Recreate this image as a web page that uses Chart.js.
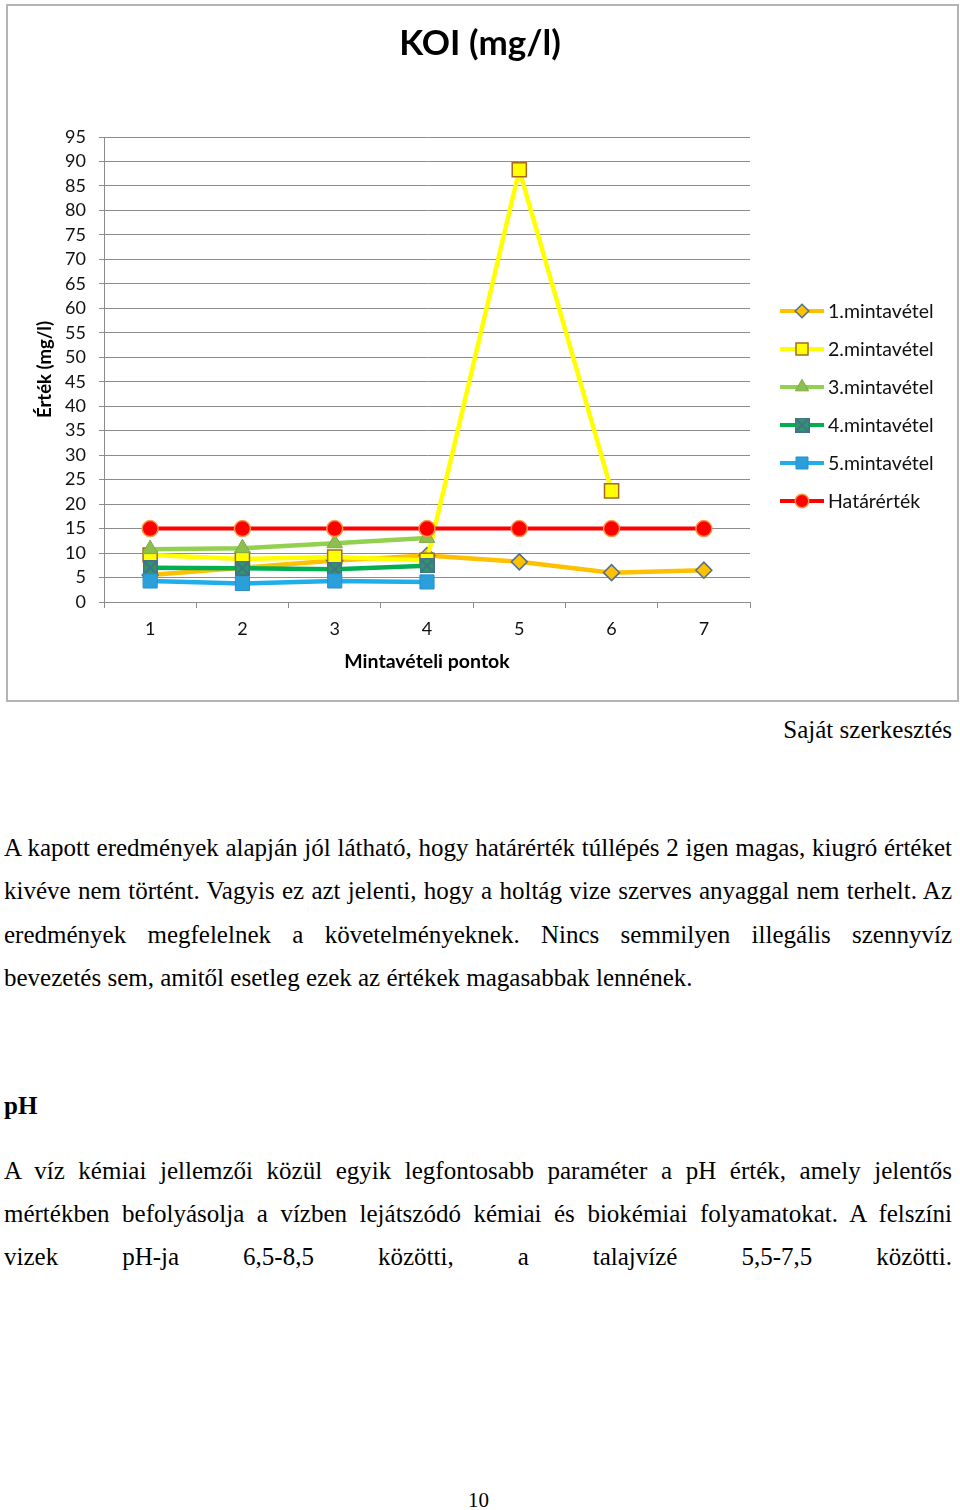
<!DOCTYPE html>
<html>
<head>
<meta charset="utf-8">
<script src="https://cdn.jsdelivr.net/npm/chart.js@4.4.1/dist/chart.umd.min.js"></script>
<style>
  html,body{margin:0;padding:0;background:#fff;}
  #page{position:relative;width:960px;height:1510px;overflow:hidden;}
  #chartBox{position:absolute;left:0;top:0;width:960px;height:702px;}
  #frame{position:absolute;left:6px;top:4px;width:949px;height:694px;border:2px solid #b4b4b4;pointer-events:none;}
  .t{position:absolute;font-family:"Liberation Serif","Times New Roman",serif;font-size:25px;color:#000;}
  .ln{left:4px;width:948px;height:43.4px;line-height:43.4px;white-space:nowrap;}
  .lnl{left:4px;width:948px;height:43.4px;line-height:43.4px;text-align:left;white-space:nowrap;}
</style>
</head>
<body>
<div id="page">
  <div id="chartBox"><canvas id="c"></canvas></div>
  <div id="frame"></div>

  <div class="t" style="right:8px;top:716px;line-height:28px;">Saját szerkesztés</div>

  <div class="t ln" style="top:826px;"><span>A kapott eredmények alapján jól látható, hogy határérték túllépés 2 igen magas, kiugró értéket</span></div>
  <div class="t ln" style="top:869.4px;"><span>kivéve nem történt. Vagyis ez azt jelenti, hogy a holtág vize szerves anyaggal nem terhelt. Az</span></div>
  <div class="t ln" style="top:912.8px;"><span>eredmények megfelelnek a követelményeknek. Nincs semmilyen illegális szennyvíz</span></div>
  <div class="t lnl" style="top:956.2px;">bevezetés sem, amitől esetleg ezek az értékek magasabbak lennének.</div>

  <div class="t" style="left:4px;top:1092px;line-height:28px;font-weight:bold;">pH</div>

  <div class="t ln" style="top:1148.5px;"><span>A víz kémiai jellemzői közül egyik legfontosabb paraméter a pH érték, amely jelentős</span></div>
  <div class="t ln" style="top:1191.9px;"><span>mértékben befolyásolja a vízben lejátszódó kémiai és biokémiai folyamatokat. A felszíni</span></div>
  <div class="t ln" style="top:1235.3px;"><span>vizek pH-ja 6,5-8,5 közötti, a talajvízé 5,5-7,5 közötti.</span></div>

  <div class="t" style="left:0;width:957px;text-align:center;top:1487px;line-height:26px;font-size:21px;">10</div>
</div>

<script>
// justify each full line to the text width
document.querySelectorAll('.ln > span').forEach(sp => {
  const target = 948;
  const w = sp.getBoundingClientRect().width;
  const gaps = (sp.textContent.match(/ /g) || []).length;
  if (gaps > 0) sp.style.wordSpacing = ((target - w) / gaps) + 'px';
});

// ---- data ----
const categories = ['1', '2', '3', '4', '5', '6', '7'];
const seriesNames = ['1.mintavétel', '2.mintavétel', '3.mintavétel', '4.mintavétel', '5.mintavétel', 'Határérték'];
const minta1 = [5.5, 7.0, 8.5, 9.5, 8.2, 6.0, 6.5];
const minta2 = [9.6, 8.8, 9.2, 8.5, 88.3, 22.7, null];
const minta3 = [10.8, 11.0, 12.0, 13.1, null, null, null];
const minta4 = [7.0, 6.9, 6.7, 7.4, null, null, null];
const minta5 = [4.3, 3.8, 4.3, 4.1, null, null, null];
const hatarertek = [15, 15, 15, 15, 15, 15, 15];
const yMin = 0, yMax = 95, yStep = 5;

const FONT = 'Lato, "Open Sans", sans-serif';

function xSquare() {
  const s = 15;
  const c = document.createElement('canvas');
  c.width = s; c.height = s;
  const g = c.getContext('2d');
  g.fillStyle = '#2e9a62';
  g.fillRect(0, 0, s, s);
  g.strokeStyle = '#44708f';
  g.lineWidth = 1.5;
  g.strokeRect(0.75, 0.75, s - 1.5, s - 1.5);
  g.lineWidth = 2;
  g.beginPath();
  g.moveTo(2, 2); g.lineTo(s - 2, s - 2);
  g.moveTo(s - 2, 2); g.lineTo(2, s - 2);
  g.stroke();
  return c;
}
const xSq = xSquare();

const styles = [
  {line:'#FFC000', fill:'#FFC000', border:'#50708f', ps:'rectRot', r:8, bw:1.5},
  {line:'#FFFF00', fill:'#FFFF00', border:'#a8691c', ps:'rect', r:10, bw:1.5},
  {line:'#92D050', fill:'#8cbf4e', border:'#7faa45', ps:'triangle', r:9, bw:1},
  {line:'#00B050', fill:'#2e9a62', border:'#44708f', ps:xSq, r:8, bw:0},
  {line:'#1FAEEA', fill:'#2b9fd9', border:'#2790cc', ps:'rect', r:10, bw:1},
  {line:'#FF0000', fill:'#FF0000', border:'#F79646', ps:'circle', r:8, bw:1.5}
];
const values = [minta1, minta2, minta3, minta4, minta5, hatarertek];

const datasets = values.map((v, i) => ({
  label: seriesNames[i],
  data: v,
  borderColor: styles[i].line,
  backgroundColor: styles[i].fill,
  borderWidth: i === 5 ? 4 : 4.5,
  pointStyle: styles[i].ps,
  pointRadius: styles[i].r,
  pointHoverRadius: styles[i].r,
  pointBackgroundColor: styles[i].fill,
  pointBorderColor: styles[i].border,
  pointBorderWidth: styles[i].bw,
  tension: 0,
  spanGaps: false,
  order: values.length - 1 - i
}));

const legendPlugin = {
  id: 'sideLegend',
  afterDraw(chart) {
    const ctx = chart.ctx;
    const x0 = 780, x1 = 824, xm = 802, tx = 828, y0 = 311, dy = 38;
    ctx.save();
    chart.data.datasets.forEach((ds, i) => {
      const y = y0 + i * dy;
      ctx.strokeStyle = ds.borderColor;
      ctx.lineWidth = 4;
      ctx.beginPath(); ctx.moveTo(x0, y); ctx.lineTo(x1, y); ctx.stroke();
      ctx.fillStyle = ds.pointBackgroundColor;
      ctx.strokeStyle = ds.pointBorderColor;
      ctx.lineWidth = ds.pointBorderWidth;
      const r = ds.pointRadius * 0.85;
      Chart.helpers.drawPoint(ctx, {pointStyle: ds.pointStyle, radius: r, rotation: 0, borderWidth: ds.pointBorderWidth}, xm, y);
      ctx.fillStyle = '#111';
      ctx.font = '19.5px ' + FONT;
      ctx.textAlign = 'left';
      ctx.textBaseline = 'middle';
      ctx.fillText(ds.label, tx, y + 1);
    });
    ctx.restore();
  }
};

new Chart(document.getElementById('c'), {
  type: 'line',
  data: { labels: categories, datasets },
  plugins: [legendPlugin],
  options: {
    responsive: true,
    maintainAspectRatio: false,
    animation: false,
    devicePixelRatio: 1,
    layout: { padding: { left: 0, right: 0, top: 0, bottom: 0 } },
    plugins: {
      legend: { display: false },
      tooltip: { enabled: false },
      title: {
        display: true,
        text: 'KOI (mg/l)',
        color: '#000',
        font: { family: FONT, size: 35, weight: 'bold', lineHeight: 1.2 },
        padding: { top: 23, bottom: 72 }
      }
    },
    scales: {
      x: {
        type: 'category',
        offset: true,
        grid: { display: true, drawOnChartArea: false, drawTicks: true, tickLength: 6, offset: true, color: '#8c8c8c', lineWidth: 1 },
        border: { display: true, color: '#8c8c8c', width: 1 },
        ticks: { color: '#111', padding: 10, font: { family: FONT, size: 18, lineHeight: 1.2 }, maxRotation: 0 },
        title: { display: true, text: 'Mintavételi pontok', color: '#000', font: { family: FONT, size: 19.5, weight: 'bold', lineHeight: 1.2 }, padding: { top: 0, bottom: 29 } },
        afterFit(scale) { scale.height = 100; }
      },
      y: {
        min: yMin, max: yMax,
        grid: { color: '#8c8c8c', lineWidth: 1, drawTicks: true, tickLength: 5 },
        border: { display: true, color: '#8c8c8c', width: 1 },
        ticks: { stepSize: yStep, color: '#111', padding: 13, font: { family: FONT, size: 18, lineHeight: 1.2 }, autoSkip: false },
        title: { display: true, text: 'Érték (mg/l)', color: '#000', font: { family: FONT, size: 18.5, weight: 'bold', lineHeight: 1.2 }, padding: { top: 34, bottom: 0 } },
        afterFit(scale) { scale.width = 104; }
      },
      legendSpace: {
        type: 'linear',
        position: 'right',
        display: true,
        grid: { display: false, drawTicks: false },
        border: { display: false },
        ticks: { display: false },
        title: { display: false },
        afterFit(scale) { scale.width = 210; }
      }
    }
  }
});
</script>
</body>
</html>
